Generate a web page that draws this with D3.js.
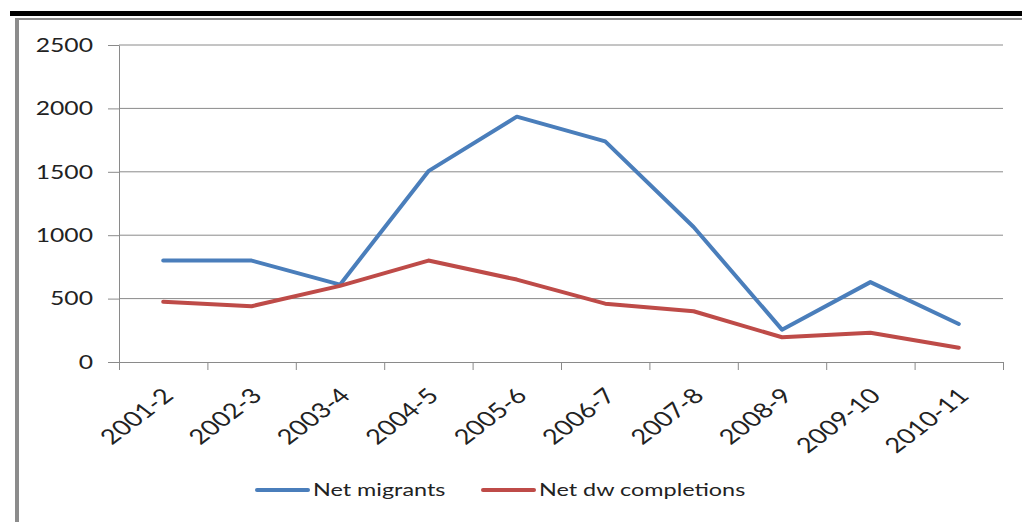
<!DOCTYPE html>
<html>
<head>
<meta charset="utf-8">
<script src="https://cdn.jsdelivr.net/npm/d3@7/dist/d3.min.js"></script>
<style>
  html, body { margin: 0; padding: 0; background: #fff; }
  svg { display: block; }
  text { font-family: Lato, "Open Sans", sans-serif; fill: #222; }
</style>
</head>
<body>
<svg id="chart" width="1022" height="522"></svg>
<script>
// Financial years on the category axis
const years = ["2001-2", "2002-3", "2003-4", "2004-5", "2005-6", "2006-7", "2007-8", "2008-9", "2009-10", "2010-11"];
// Net migrants per year
const netMigrants = [800, 800, 610, 1505, 1935, 1740, 1065, 255, 630, 300];
// Net dwelling completions per year
const netCompletions = [475, 440, 600, 800, 650, 460, 400, 195, 230, 113];
// Value axis ticks
const yTicks = [0, 500, 1000, 1500, 2000, 2500];
const seriesNames = ["Net migrants", "Net dw completions"];
const colors = ["#4a7ebb", "#be4b48"];

const svg = d3.select("#chart");
const plot = { left: 119, right: 1003, top: 45, bottom: 362 };
const stretch = 1.3; // horizontal text stretch

// frame: heavy rule on top, thin gray border below it and on the left
svg.append("rect").attr("x", 10).attr("y", 11).attr("width", 1012).attr("height", 5).attr("fill", "#000");
svg.append("rect").attr("x", 15).attr("y", 18).attr("width", 1007).attr("height", 2).attr("fill", "#8c8c8c");
svg.append("rect").attr("x", 15).attr("y", 18).attr("width", 4).attr("height", 504).attr("fill", "#8c8c8c");

const x = d3.scaleBand().domain(years).range([plot.left, plot.right]);
const xEdges = d3.scaleLinear().domain([0, years.length]).range([plot.left, plot.right]);
const y = d3.scaleLinear().domain([0, 2500]).range([plot.bottom, plot.top]);

// horizontal gridlines
svg.append("g").selectAll("line").data(yTicks.filter(v => v > 0)).join("line")
  .attr("x1", plot.left).attr("x2", plot.right)
  .attr("y1", d => y(d)).attr("y2", d => y(d))
  .attr("stroke", "#8a8a8a").attr("stroke-width", 1);

// value axis
const yAxis = svg.append("g").attr("transform", `translate(${plot.left},0)`)
  .call(d3.axisLeft(y).tickValues(yTicks).tickSize(11).tickSizeOuter(0).tickFormat(""));
yAxis.selectAll("line, path").attr("stroke", "#8a8a8a");

svg.append("g").selectAll("text").data(yTicks).join("text")
  .attr("transform", d => `translate(93,${y(d)}) scale(${stretch},1)`)
  .attr("text-anchor", "end").attr("dy", "0.36em")
  .attr("font-size", 19)
  .text(d => d);

// category axis: ticks between categories
const xAxis = svg.append("g").attr("transform", `translate(0,${plot.bottom})`)
  .call(d3.axisBottom(xEdges).tickValues(d3.range(years.length + 1)).tickSize(8).tickSizeOuter(0).tickFormat(""));
xAxis.selectAll("line, path").attr("stroke", "#8a8a8a");

svg.append("g").selectAll("text").data(years).join("text")
  .attr("transform", d => `translate(${x(d) + x.bandwidth() / 2 + 5},${plot.bottom + 30}) scale(${stretch},1) rotate(-45)`)
  .attr("text-anchor", "end").attr("dy", "0.35em")
  .attr("font-size", 21)
  .text(d => d);

// series lines
const line = d3.line()
  .x((d, i) => x(years[i]) + x.bandwidth() / 2)
  .y(d => y(d));

[netMigrants, netCompletions].forEach((vals, k) => {
  svg.append("path").datum(vals)
    .attr("d", line)
    .attr("fill", "none")
    .attr("stroke", colors[k])
    .attr("stroke-width", 4)
    .attr("stroke-linejoin", "round")
    .attr("stroke-linecap", "round");
});

// legend
const legendPos = [257, 483];
const legend = svg.append("g");
seriesNames.forEach((name, k) => {
  legend.append("line")
    .attr("x1", legendPos[k]).attr("x2", legendPos[k] + 51)
    .attr("y1", 490).attr("y2", 490)
    .attr("stroke", colors[k]).attr("stroke-width", 4).attr("stroke-linecap", "round");
  legend.append("text")
    .attr("transform", `translate(${legendPos[k] + 56},490) scale(${stretch},1)`)
    .attr("dy", "0.36em")
    .attr("font-size", 18)
    .text(name);
});
</script>
</body>
</html>
